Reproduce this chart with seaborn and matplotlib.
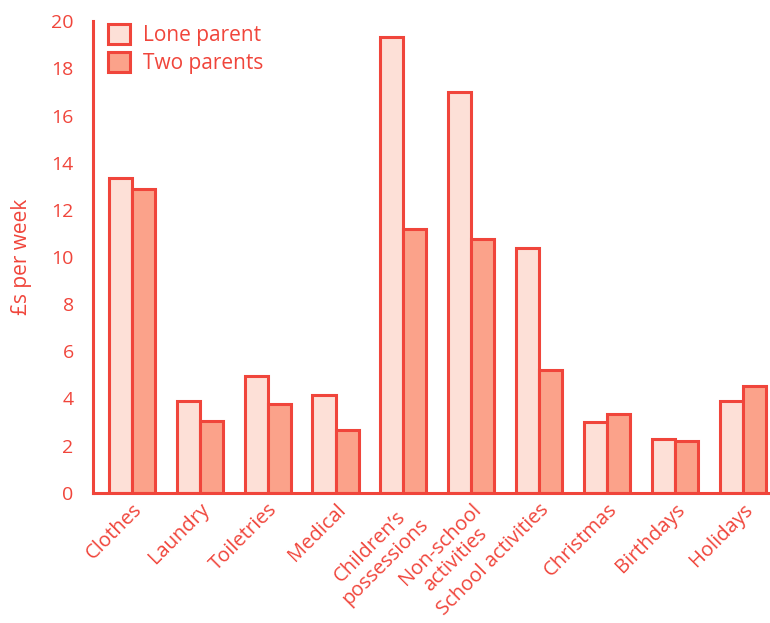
import pandas as pd
import matplotlib.pyplot as plt
import seaborn as sns

# -----------------------------
# Data
# -----------------------------
categories = ["Clothes", "Laundry", "Toiletries", "Medical", "Children’s\npossessions",
              "Non-school\nactivities", "School activities", "Christmas", "Birthdays", "Holidays"]
lone_parent = [13.35, 3.9, 4.95, 4.15, 19.35, 17.0, 10.4, 3.0, 2.3, 3.9]
two_parents = [12.9, 3.05, 3.75, 2.65, 11.2, 10.75, 5.2, 3.35, 2.2, 4.55]
series_names = ["Lone parent", "Two parents"]

df = pd.DataFrame({
    "category": categories * 2,
    "value": lone_parent + two_parents,
    "household": [series_names[0]] * len(categories) + [series_names[1]] * len(categories),
})

# -----------------------------
# Style
# -----------------------------
red = "#F0453B"
fills = ["#FDE0D7", "#FBA28A"]

sns.set_style("white")
plt.rcParams['font.family'] = ['Open Sans', 'DejaVu Sans']

fig = plt.figure(figsize=(7.7, 6.23), dpi=100)
ax = fig.add_axes([0.121, 0.209, 0.879, 0.757])

sns.barplot(data=df, x="category", y="value", hue="household", palette=fills,
            saturation=1, edgecolor=red, linewidth=2.2, width=0.68, gap=0, ax=ax)

ax.set_ylim(0, 20)
ax.set_xlim(-0.57, 9.4)
ax.set_yticks(range(0, 21, 2))

for s in ["top", "right"]:
    ax.spines[s].set_visible(False)
ax.spines["left"].set_color(red)
ax.spines["left"].set_linewidth(2.2)
ax.spines["left"].set_bounds(0, 20)
ax.spines["bottom"].set_color(red)
ax.spines["bottom"].set_linewidth(2.2)

ax.tick_params(axis="y", colors=red, labelsize=14, length=8, width=2.2, direction="out", pad=6)
ax.tick_params(axis="x", colors=red, labelsize=14.5, length=0, pad=5)
for lbl in ax.get_xticklabels():
    lbl.set_rotation(45)
    lbl.set_ha("right")
    lbl.set_va("top")
    lbl.set_rotation_mode("anchor")
    lbl.set_multialignment("center")
    lbl.set_linespacing(1.1)

ax.set_xlabel("")
ax.set_ylabel("£s per week", color=red, fontsize=15, labelpad=14)

leg = ax.legend(loc="upper left", bbox_to_anchor=(0.01, 1.011), frameon=False,
                fontsize=15, handlelength=1.05, handleheight=1.05, handletextpad=0.6,
                labelspacing=0.3, borderaxespad=0)
for t in leg.get_texts():
    t.set_color(red)

plt.savefig("out.png", dpi=100)
